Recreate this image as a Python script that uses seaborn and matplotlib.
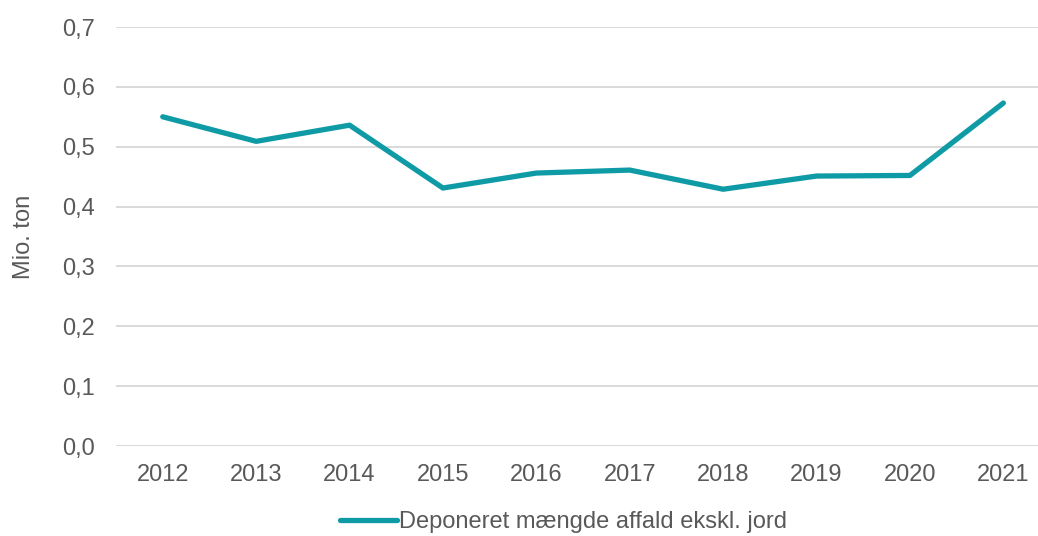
import pandas as pd
import matplotlib
matplotlib.use("Agg")
import matplotlib.pyplot as plt
import seaborn as sns
from matplotlib.ticker import FuncFormatter

sns.set_style("white")
plt.rcParams['font.family'] = ['Liberation Sans', 'DejaVu Sans']

# Data
years = ['2012', '2013', '2014', '2015', '2016', '2017', '2018', '2019', '2020', '2021']
deponeret = [0.550, 0.509, 0.536, 0.431, 0.456, 0.461, 0.429, 0.451, 0.452, 0.573]
series_name = 'Deponeret mængde affald ekskl. jord'

df = pd.DataFrame({'year': years, 'value': deponeret, 'serie': series_name})

text_color = '#595959'
line_color = '#0F9BA6'

fig = plt.figure(figsize=(10.38, 5.36), dpi=100)
ax = fig.add_axes([0.1118, 0.1679, 0.8998, 0.7817])

sns.lineplot(data=df, x='year', y='value', hue='serie', palette=[line_color],
             linewidth=3.8, sort=False, ax=ax, legend=True)
for line in ax.lines:
    line.set_solid_capstyle('round')
    line.set_solid_joinstyle('round')

ax.set_ylim(0, 0.7)
ax.set_xlim(-0.5, 9.5)
ax.set_yticks([0.0, 0.1, 0.2, 0.3, 0.4, 0.5, 0.6, 0.7])
ax.yaxis.set_major_formatter(FuncFormatter(lambda v, p: f'{v:.1f}'.replace('.', ',')))
ax.grid(axis='y', color='#D9D9D9', linewidth=1.4)
ax.grid(axis='x', visible=False)
ax.set_axisbelow(True)
for s in ax.spines.values():
    s.set_visible(False)

ax.tick_params(axis='y', length=0, pad=15, labelsize=17, labelcolor=text_color)
ax.tick_params(axis='x', length=0, pad=13, labelsize=17, labelcolor=text_color)
ax.set_xlabel('')
ax.set_ylabel('Mio. ton', fontsize=17, color=text_color, labelpad=20)

# Legend at the bottom
handles, labels = ax.get_legend_handles_labels()
ax.get_legend().remove()
fig.legend(handles, labels, loc='center', bbox_to_anchor=(0.543, 0.026),
           frameon=False, fontsize=17, labelcolor=text_color,
           handlelength=2.4, handletextpad=0.1)

fig.savefig('out.png', dpi=100)
